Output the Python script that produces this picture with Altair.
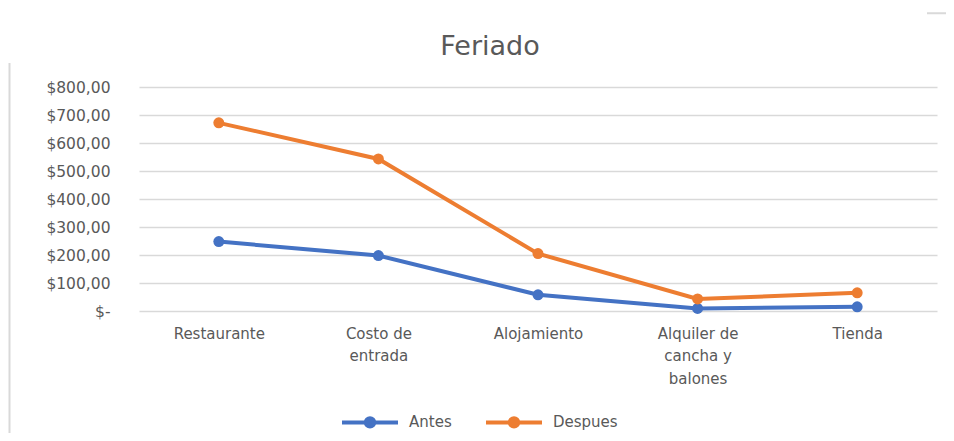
import altair as alt
import pandas as pd

categorias = ["Restaurante", "Costo de|entrada", "Alojamiento", "Alquiler de|cancha y|balones", "Tienda"]
antes = [248, 198, 58, 9, 15]
despues = [672, 543, 205, 43, 65]
series = ["Antes", "Despues"]
colores = ["#4472C4", "#ED7D31"]
y_ticks = [0, 100, 200, 300, 400, 500, 600, 700, 800]
titulo = ["Feriado"]

rows = []
for c, a, d in zip(categorias, antes, despues):
    rows.append({"Categoria": c, "Serie": "Antes", "Valor": a})
    rows.append({"Categoria": c, "Serie": "Despues", "Valor": d})
df = pd.DataFrame(rows)

FONT = "DejaVu Sans"
GRAY = "#595959"

x = alt.X("Categoria:N", sort=categorias, title=None,
          scale=alt.Scale(padding=0.5),
          axis=alt.Axis(labelAngle=0, domain=False, ticks=False, grid=False,
                        labelExpr="split(datum.label, '|')",
                        labelFont=FONT, labelFontSize=15, labelColor=GRAY,
                        labelPadding=15, labelLineHeight=22.5))
y = alt.Y("Valor:Q", title=None,
          scale=alt.Scale(domain=[0, 800], nice=False),
          axis=alt.Axis(values=y_ticks, domain=False, ticks=False,
                        gridColor="#D9D9D9", gridWidth=1.3,
                        labelExpr="datum.value == 0 ? '$-' : '$' + replace(format(datum.value, '.2f'), '.', ',')",
                        labelFont=FONT, labelFontSize=15.5, labelColor=GRAY,
                        labelPadding=29))

legend = alt.Legend(
    orient="none", direction="horizontal", legendX=201, legendY=305,
    symbolType="M-1,0L1,0M0.15,0A0.15,0.15,0,1,1,-0.15,0A0.15,0.15,0,1,1,0.15,0Z",
    symbolSize=3136, symbolStrokeWidth=4,
    labelFont=FONT, labelFontSize=15, labelColor=GRAY,
    labelOffset=9, columnPadding=26)
color = alt.Color("Serie:N", scale=alt.Scale(domain=series, range=colores), title=None, legend=legend)

line = alt.Chart(df).mark_line(strokeWidth=4).encode(x=x, y=y, color=color)
points = alt.Chart(df).mark_point(filled=True, size=120, opacity=1).encode(x=x, y=y, color=color)

title_layer = alt.Chart(pd.DataFrame({"t": titulo})).mark_text(
    font=FONT, fontSize=27, color=GRAY, align="center", baseline="alphabetic"
).encode(text="t:N", x=alt.value(351), y=alt.value(-31.7))

dummy = pd.DataFrame({"k": [0]})
left_border = alt.Chart(dummy).mark_rule(color="#D9D9D9", strokeWidth=2).encode(
    x=alt.value(-129.5), y=alt.value(-24), y2=alt.value(360)
)
top_border = alt.Chart(dummy).mark_rule(color="#D9D9D9", strokeWidth=2).encode(
    x=alt.value(788), x2=alt.value(830), y=alt.value(-73.7)
)

chart = alt.layer(line, points, title_layer, left_border, top_border).properties(
    width=798, height=224,
    autosize=alt.AutoSizeParams(type="none"),
    padding={"left": 131, "top": 79, "right": 9, "bottom": 122},
    background="white",
).configure_view(stroke=None)

chart.save("out.html", embed_options={"renderer": "svg", "actions": False})
